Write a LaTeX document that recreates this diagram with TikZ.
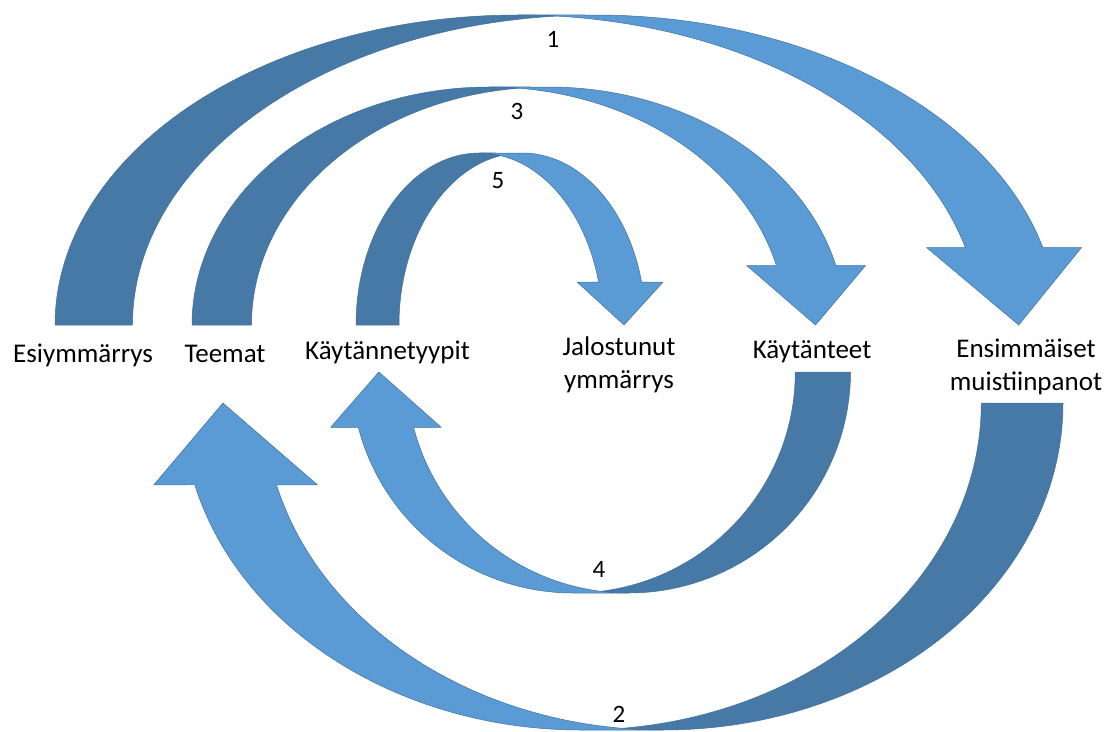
\documentclass[tikz,border=0pt]{standalone}
\usepackage{fontspec}
\setmainfont{Carlito}
\definecolor{frontc}{HTML}{5B9BD5}
\definecolor{backc}{HTML}{4779A7}
\definecolor{outc}{HTML}{41719C}
\newcommand\cdarrow[2]{%
  \pgfmathsetmacro\cwR{#1}%
  \pgfmathsetmacro\ch{#2}%
  \pgfmathsetmacro\cth{#2/4}%
  \pgfmathsetmacro\cphi{acos(\cth/(2*\cwR))}%
  \pgfmathsetmacro\cix{\cwR+\cth/2}%
  \pgfmathsetmacro\ciy{\ch*sin(\cphi)}%
  \pgfmathsetmacro\cpsi{asin(0.25)}%
  \pgfmathsetmacro\cxv{\cwR+\cwR*cos(\cpsi)}%
  \pgfmathsetmacro\cxvii{\cxv+\cth}%
  \pgfmathsetmacro\cxiv{\cxv-\cth/2}%
  \pgfmathsetmacro\cxviii{\cxvii+\cth/2}%
  \pgfmathsetmacro\cxvi{2*\cwR+\cth/2}%
  \pgfmathsetmacro\ctop{\cwR+\cth}%
  \filldraw[backpart] (\cix,\ciy)
    arc[start angle={180-\cphi}, end angle=180, x radius=\cwR pt, y radius=\ch pt]
    -- (0,0)
    arc[start angle=180, end angle=\cphi, x radius=\cwR pt, y radius=\ch pt] -- cycle;
  \filldraw[frontpart] (\cxvi,0) -- (\cxiv,\cth) -- (\cxv,\cth)
    arc[start angle=\cpsi, end angle=90, x radius=\cwR pt, y radius=\ch pt]
    -- (\ctop,\ch)
    arc[start angle=90, end angle=\cpsi, x radius=\cwR pt, y radius=\ch pt]
    -- (\cxviii,\cth) -- cycle;
}
\begin{document}
\begin{tikzpicture}[x=1pt,y=1pt,
  backpart/.style={fill=backc, draw=outc, line width=0.5pt, line join=round},
  frontpart/.style={fill=frontc, draw=outc, line width=0.5pt, line join=round},
  lbl/.style={inner sep=0pt, font=\fontsize{27}{33}\selectfont, text=black},
  num/.style={inner sep=0pt, font=\fontsize{25}{30}\selectfont, text=black}]
\path[use as bounding box] (0,0) rectangle (1113,-731);
% upper arrows (1, 3, 5)
\begin{scope}[shift={(55,-325)}]\cdarrow{462.5}{310}\end{scope}
\begin{scope}[shift={(192,-325)}]\cdarrow{296.9}{238}\end{scope}
\begin{scope}[shift={(356,-325)}]\cdarrow{123.25}{172}\end{scope}
% lower arrows (2, 4), rotated
\begin{scope}[shift={(1063,-403)}, rotate=180]\cdarrow{399.6}{327}\end{scope}
\begin{scope}[shift={(850.5,-372)}, rotate=180]\cdarrow{222}{221}\end{scope}
% numbers
\node[num, anchor=base] (n1) at (553,-47) {1};
\node[num, anchor=base] (n3) at (517,-119) {3};
\node[num, anchor=base] (n5) at (498,-188) {5};
\node[num, anchor=base] (n4) at (599,-577) {4};
\node[num, anchor=base] (n2) at (619,-722) {2};
% labels
\node[lbl, anchor=base] (esi) at (83,-362) {Esiymmärrys};
\node[lbl, anchor=base] (tee) at (225,-362) {Teemat};
\node[lbl, anchor=base] (kty) at (387.5,-359) {Käytännetyypit};
\node[lbl, anchor=base] (jal) at (619,-355) {\begin{tabular}[t]{@{}c@{}}Jalostunut\\ ymmärrys\end{tabular}};
\node[lbl, anchor=base] (kay) at (812,-358) {Käytänteet};
\node[lbl, anchor=base] (ens) at (1026,-357) {\begin{tabular}[t]{@{}c@{}}Ensimmäiset\\ muistiinpanot\end{tabular}};
\end{tikzpicture}
\end{document}
